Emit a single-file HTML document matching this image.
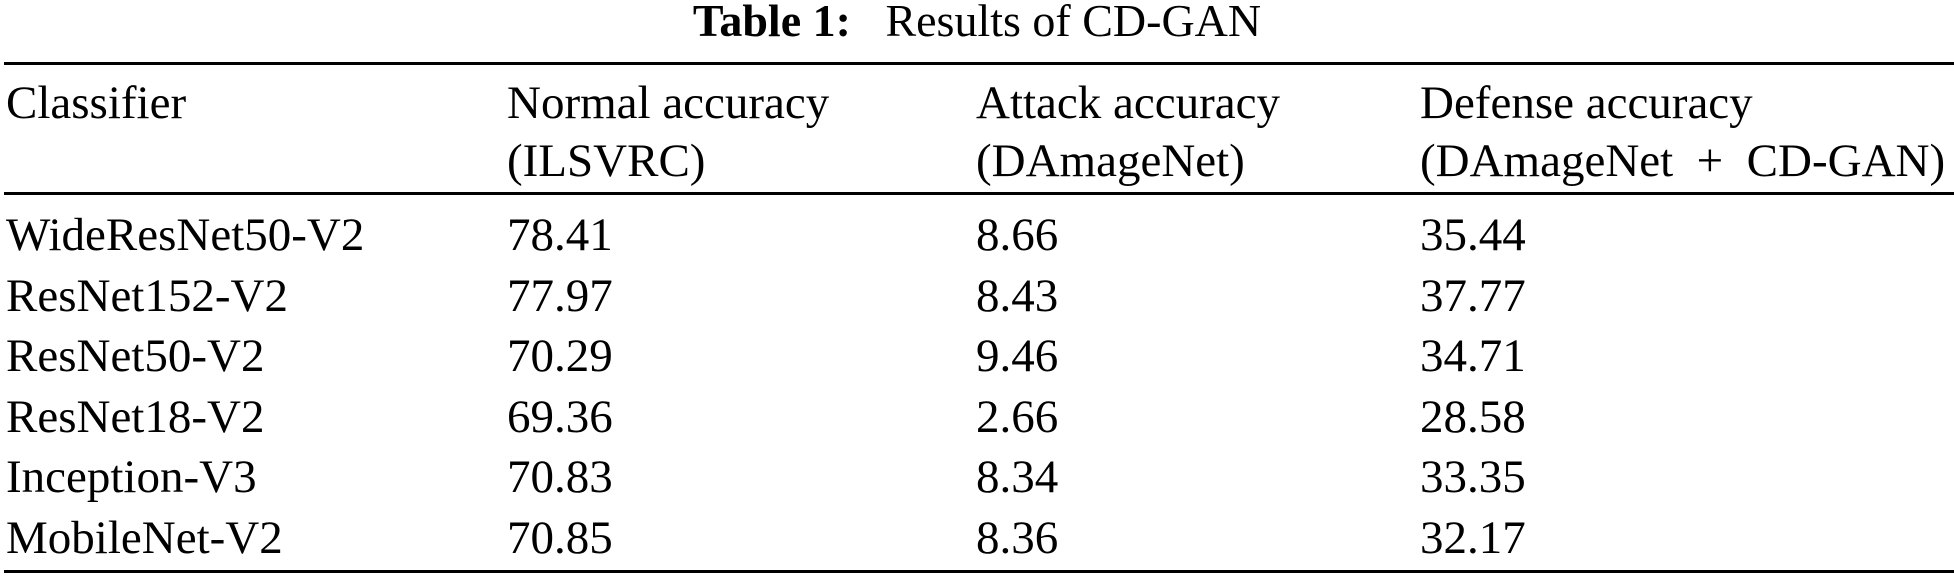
<!DOCTYPE html>
<html><head><meta charset="utf-8"><style>
html,body{margin:0;padding:0;background:#fff;}
svg{display:block;}
text{font-family:"Liberation Serif","Times New Roman",serif;font-size:47px;fill:#000;}
</style></head><body>
<svg width="1954" height="579" viewBox="0 0 1954 579" xmlns="http://www.w3.org/2000/svg">
<rect width="1954" height="579" fill="#fff"/>
<text x="977" y="36" text-anchor="middle" style="font-size:46px" xml:space="preserve"><tspan font-weight="bold">Table 1:</tspan>   Results of CD-GAN</text>
<rect x="4" y="62" width="1950" height="3" fill="#000"/>
<rect x="4" y="192" width="1950" height="3" fill="#000"/>
<rect x="4" y="570" width="1950" height="3" fill="#000"/>
<text x="6" y="118">Classifier</text>
<text x="507" y="118">Normal accuracy</text>
<text x="507" y="176">(ILSVRC)</text>
<text x="976" y="118">Attack accuracy</text>
<text x="976" y="176">(DAmageNet)</text>
<text x="1420" y="118">Defense accuracy</text>
<text x="1420" y="176" xml:space="preserve">(DAmageNet  +  CD-GAN)</text>
<g>
<text x="6" y="250">WideResNet50-V2</text><text x="507" y="250">78.41</text><text x="976" y="250">8.66</text><text x="1420" y="250">35.44</text>
<text x="6" y="311">ResNet152-V2</text><text x="507" y="311">77.97</text><text x="976" y="311">8.43</text><text x="1420" y="311">37.77</text>
<text x="6" y="371">ResNet50-V2</text><text x="507" y="371">70.29</text><text x="976" y="371">9.46</text><text x="1420" y="371">34.71</text>
<text x="6" y="432">ResNet18-V2</text><text x="507" y="432">69.36</text><text x="976" y="432">2.66</text><text x="1420" y="432">28.58</text>
<text x="6" y="492">Inception-V3</text><text x="507" y="492">70.83</text><text x="976" y="492">8.34</text><text x="1420" y="492">33.35</text>
<text x="6" y="553">MobileNet-V2</text><text x="507" y="553">70.85</text><text x="976" y="553">8.36</text><text x="1420" y="553">32.17</text>
</g>
</svg>
</body></html>
